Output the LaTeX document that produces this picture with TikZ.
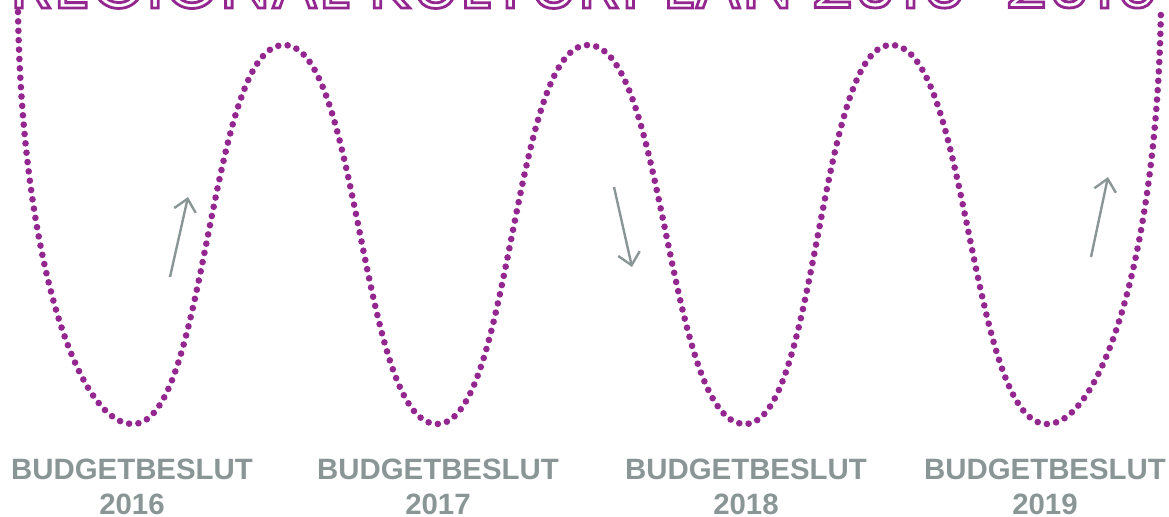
\documentclass[tikz,border=0pt]{standalone}
\usepackage{fontspec}
\setmainfont{Liberation Sans}
\newfontfamily\titlefont{Poppins}
\usepackage{xcolor}
\usetikzlibrary{arrows.meta,positioning,calc}
\definecolor{planpurple}{HTML}{93278F}
\definecolor{budgetgray}{HTML}{8A9696}
\newcommand{\outlined}[1]{\special{pdf:literal direct 1 Tr 1.4 w}#1\special{pdf:literal direct 0 Tr}}

\begin{document}
\begin{tikzpicture}[x=0.5pt,y=-0.5pt,
  yearlabel/.style={align=center,inner sep=0pt,text=budgetgray,font=\fontsize{14.7}{17.5}\selectfont\bfseries},
  arrow/.style={-{Straight Barb[length=6pt,width=11pt]},line width=1.2pt,color=budgetgray},
  wave/.style={draw=planpurple,line width=3.3pt,line cap=round,dash pattern=on 0pt off 4.7pt}
]
  \useasboundingbox (0,0) rectangle (1169,516);
  \node[anchor=base,inner sep=0pt,text=planpurple,font=\titlefont\fontsize{35.8}{36}\selectfont] (title) at (585,8) {\outlined{REGIONAL KULTURPLAN 2016-2019}};
  \draw[wave] (18,12) .. controls (22,260) and (78,424) .. (133,424)
    .. controls (208,424) and (208,45) .. (284,45)
    .. controls (360,45) and (360,424) .. (437,424)
    .. controls (512,424) and (512,45) .. (588,45)
    .. controls (666,45) and (666,424) .. (745,424)
    .. controls (818,424) and (818,45) .. (891,45)
    .. controls (969,45) and (969,424) .. (1047,424)
    .. controls (1100,424) and (1157,260) .. (1161,8);
  \node[yearlabel] (b16) at (132,487) {BUDGETBESLUT\\2016};
  \node[yearlabel] (b17) at (438,487) {BUDGETBESLUT\\2017};
  \node[yearlabel] (b18) at (746,487) {BUDGETBESLUT\\2018};
  \node[yearlabel] (b19) at (1045,487) {BUDGETBESLUT\\2019};
  \coordinate (up16s) at (170,277);
  \coordinate (up16e) at (188,197);
  \coordinate (down18s) at (614,187);
  \coordinate (down18e) at (632,267);
  \coordinate (up19s) at (1091,257);
  \coordinate (up19e) at (1108,177);
  \draw[arrow] (up16s) -- (up16e);
  \draw[arrow] (down18s) -- (down18e);
  \draw[arrow] (up19s) -- (up19e);
\end{tikzpicture}
\end{document}
